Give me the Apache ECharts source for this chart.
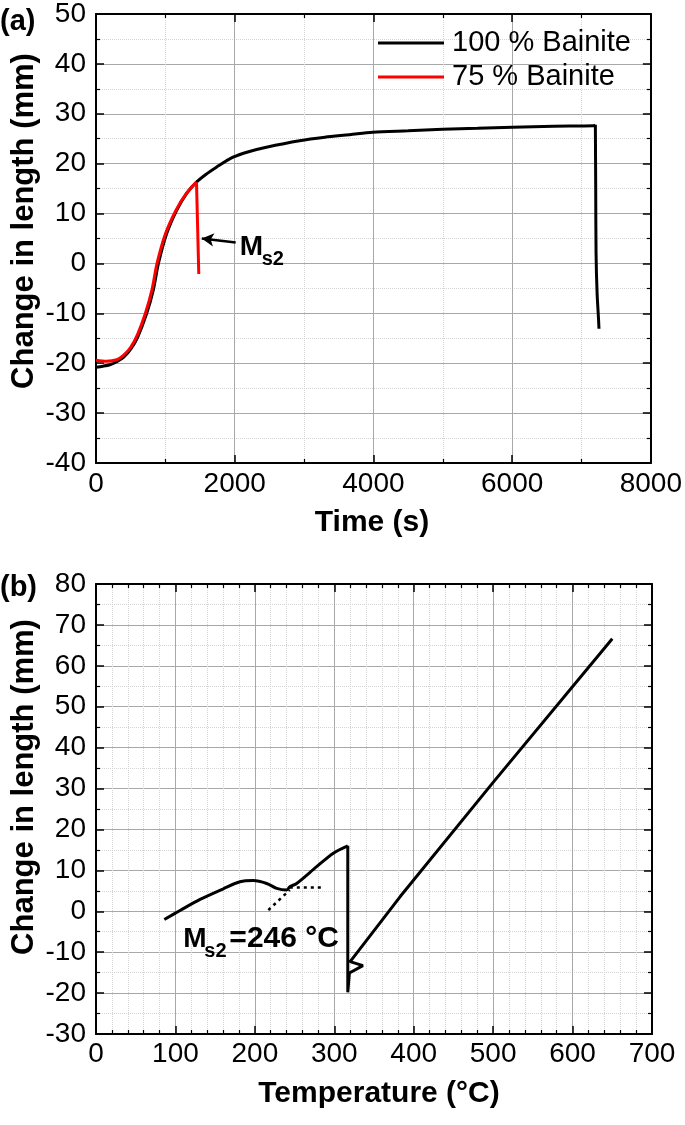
<!DOCTYPE html>
<html><head><meta charset="utf-8">
<script src="https://cdn.jsdelivr.net/npm/echarts@6/dist/echarts.min.js"></script>
<style>html,body{margin:0;padding:0;background:#fff}#c{width:685px;height:1125px}</style>
</head><body><div id="c"></div>
<script>
// ---------- DATA ----------
// (a) Change in length vs time
const bainite100 = [[0,-20.8],[100,-20.6],[200,-20.3],[300,-19.7],[400,-18.8],[500,-17.2],[600,-14.8],[729,-10.1],[825,-5.4],[900,0],[1017,5.9],[1161,10.6],[1305,14.0],[1449,16.3],[1600,18.0],[1736,19.3],[1976,21.3],[2200,22.4],[2456,23.3],[2935,24.6],[3300,25.3],[3655,25.8],[3990,26.3],[4500,26.6],[4997,26.9],[5500,27.1],[6004,27.3],[6600,27.5],[7180,27.6],[7200,27.8]];
const bainite100Drop = [[7200,27.8],[7205,15],[7210,2],[7225,-6],[7245,-11],[7252,-13.1]];
const bainite75 = [[0,-19.4],[150,-19.6],[300,-19.3],[400,-18.4],[500,-16.8],[600,-14.2],[710,-10.1],[805,-5.4],[880,0],[1000,5.9],[1150,10.6],[1300,14.0],[1449,16.3]];
const bainite75Drop = [[1449,16.3],[1482,-2.1]];
const arrowA = [[2014,4.2],[1525,5.0]];
const labelA = [2072,3.3];
// (b) Change in length vs temperature
const heatingHold = [[650,66.6],[500,31.5],[383,3.6],[320,-12.3],[336,-13.3],[319,-15.1],[317,-19.8],[317,16.0]];
const cooling = [[317,16.0],[298.8,14.2],[277.8,10.9],[252.6,6.8],[244,6.0],[240,5.2],[227.5,5.6],[214.9,6.8],[198,7.5],[181.3,7.2],[160.3,5.5],[131,2.9],[105.8,0.2],[86,-2.0]];
const tangentH = [[244,5.8],[284,5.8]];
const tangentD = [[217,0.3],[244,5.2]];
const labelB = [110,-6.8];
const seriesNames = ['100 % Bainite','75 % Bainite'];

// ---------- CHART ----------
const FONT = '"Liberation Sans", Arial, sans-serif';
const chart = echarts.init(document.getElementById('c'), null, {renderer:'canvas'});
const TICK = 28;

function xAxes(grid, min, max, interval, minor, margin){
  const common = {type:'value', gridIndex:grid, min, max, interval,
    axisLine:{show:true,onZero:false,lineStyle:{color:'#000',width:2}},
    axisTick:{show:true,inside:true,length:8,lineStyle:{color:'#000',width:1.5}},
    minorTick:{show:true,splitNumber:minor,length:4,lineStyle:{color:'#000',width:1.2}}};
  return [
    Object.assign({}, common, {position:'bottom',
      splitLine:{show:true,lineStyle:{color:'#a8a8a8',width:1}},
      minorSplitLine:{show:true,lineStyle:{color:'#d4d4d4',width:1,type:'dotted'}},
      axisLabel:{fontSize:TICK,color:'#000',fontFamily:FONT,margin:margin,showMinLabel:true,showMaxLabel:true,hideOverlap:false,formatter:v=>String(v)}}),
    Object.assign({}, common, {position:'top', splitLine:{show:false}, minorSplitLine:{show:false}, axisLabel:{show:false}})
  ];
}
function yAxes(grid, min, max, interval, minor){
  const common = {type:'value', gridIndex:grid, min, max, interval,
    axisLine:{show:true,onZero:false,lineStyle:{color:'#000',width:2}},
    axisTick:{show:true,inside:true,length:8,lineStyle:{color:'#000',width:1.5}},
    minorTick:{show:true,splitNumber:minor,length:4,lineStyle:{color:'#000',width:1.2}}};
  return [
    Object.assign({}, common, {position:'left',
      splitLine:{show:true,lineStyle:{color:'#a8a8a8',width:1}},
      minorSplitLine:{show:true,lineStyle:{color:'#d4d4d4',width:1,type:'dotted'}},
      axisLabel:{fontSize:TICK,color:'#000',fontFamily:FONT,margin:10,showMinLabel:true,showMaxLabel:true,hideOverlap:false,formatter:v=>String(v)}}),
    Object.assign({}, common, {position:'right', splitLine:{show:false}, minorSplitLine:{show:false}, axisLabel:{show:false}})
  ];
}
const line = (name, data, color, xi, yi, extra) => Object.assign({name, type:'line', xAxisIndex:xi, yAxisIndex:yi, data,
  showSymbol:false, symbol:'none', color, lineStyle:{color, width:3}, z:3}, extra||{});

const option = {
  animation:false,
  backgroundColor:'#fff',
  grid:[
    {left:96, top:13, width:556, height:450},
    {left:96, top:584, width:556, height:450}
  ],
  xAxis:[...xAxes(0,0,8000,2000,2,7), ...xAxes(1,0,700,100,5,6)],
  yAxis:[...yAxes(0,-40,50,10,2), ...yAxes(1,-30,80,10,2)],
  legend:{
    data:seriesNames, orient:'vertical', left:378, top:26, padding:0, itemGap:0,
    itemWidth:66, itemHeight:3, icon:'rect',
    textStyle:{fontSize:29,color:'#000',fontFamily:FONT,lineHeight:34,padding:[0,0,0,3]}
  },
  series:[
    line(seriesNames[0], bainite100, '#000', 0, 0, {smooth:0.3,
     markLine:{silent:true, symbol:['none','arrow'], symbolSize:[10,12], label:{show:false},
       lineStyle:{color:'#000',width:2.5,type:'solid'},
       data:[[{coord:arrowA[0]},{coord:arrowA[1]}]]}}),
    line('drop100', bainite100Drop, '#000', 0, 0, {smooth:0.3}),
    line(seriesNames[1], bainite75, '#ff0000', 0, 0, {smooth:0.3, z:4}),
    line('drop75', bainite75Drop, '#ff0000', 0, 0, {z:4}),
    line('heatingHold', heatingHold, '#000', 2, 2),
    line('cooling', cooling, '#000', 2, 2, {smooth:0.3}),
    line('tangentH', tangentH, '#000', 2, 2, {lineStyle:{color:'#000',width:2.5,type:[3,4]}}),
    line('tangentD', tangentD, '#000', 2, 2, {lineStyle:{color:'#000',width:2.5,type:[3,4]}})
  ]
};
chart.setOption(option);

// annotations positioned through the chart's own scales
const pA = chart.convertToPixel({xAxisIndex:0, yAxisIndex:0}, labelA);
const pB = chart.convertToPixel({xAxisIndex:2, yAxisIndex:2}, labelB);
const bold = (t, x, y, size, extra) => Object.assign({type:'text', x, y,
  style:{text:t, font:'bold '+size+'px '+FONT, fill:'#000', textAlign:'left', textVerticalAlign:'middle'}}, extra||{});
const center = (t, x, y, size, rot) => ({type:'text', x, y, rotation:rot||0,
  style:{text:t, font:'bold '+size+'px '+FONT, fill:'#000', textAlign:'center', textVerticalAlign:'middle'}});
chart.setOption({graphic:[
  bold('(a)', 0, 22, 29),
  bold('(b)', 0, 588, 29),
  center('Change in length (mm)', 24, 221, 31, Math.PI/2),
  center('Change in length (mm)', 24, 787, 31, Math.PI/2),
  center('Time (s)', 372, 523, 30),
  center('Temperature (°C)', 379, 1094, 30),
  bold('M', pA[0], pA[1], 28),
  bold('s2', pA[0]+22, pA[1]+12.5, 20),
  bold('M', pB[0], pB[1], 28),
  bold('s2', pB[0]+21, pB[1]+12.5, 20),
  bold('=246 °C', pB[0]+46, pB[1], 30)
]});
</script></body></html>
